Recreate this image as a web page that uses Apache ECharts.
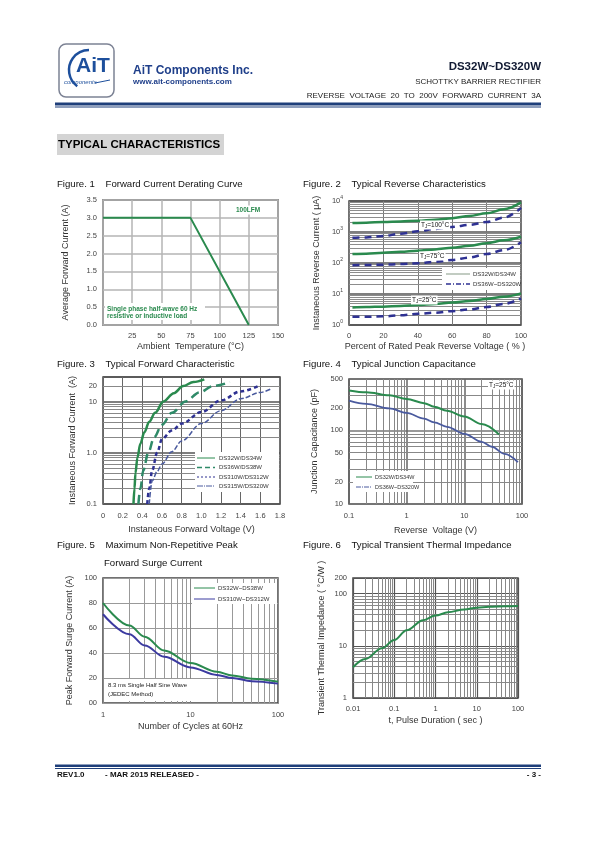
<!DOCTYPE html>
<html><head><meta charset="utf-8">
<script src="https://cdn.jsdelivr.net/npm/echarts@6/dist/echarts.min.js"></script>
<style>html,body{margin:0;padding:0;background:#fff}#c{width:595px;height:842px}</style>
</head><body><div id="c"></div>
<script>
// ---------------- DATA ----------------
// Fig 1 Forward Current Derating Curve
const f1Temp = [0, 75, 125];
const f1Curr = [3.0, 3.0, 0.0];
// Fig 2 Typical Reverse Characteristics (percent of rated voltage -> uA)
const f2Pct = [2, 10, 20, 30, 40, 50, 60, 70, 80, 90, 100];
const f2G100 = [1950, 2000, 2100, 2200, 2300, 2500, 2800, 3300, 4000, 5400, 9000];
const f2B100 = [650, 670, 740, 880, 1050, 1250, 1450, 1700, 2100, 2900, 6000];
const f2G75 = [195, 200, 215, 230, 250, 275, 310, 360, 435, 540, 700];
const f2B75 = [85, 86, 88, 92, 98, 110, 125, 150, 195, 260, 470];
const f2G25 = [3.7, 3.8, 3.9, 4.1, 4.4, 4.8, 5.3, 6.0, 6.9, 8.2, 10.5];
const f2B25 = [1.85, 1.85, 1.9, 2.05, 2.3, 2.5, 2.8, 3.2, 3.8, 4.8, 7.2];
// Fig 3 Typical Forward Characteristic (V, A)
const f3V_a = [0.31, 0.32, 0.33, 0.35, 0.38, 0.42, 0.47, 0.53, 0.615, 0.72, 0.815, 0.92, 1.03];
const f3I_a = [0.1, 0.2, 0.4, 0.8, 1.5, 2.5, 4, 6, 10, 14.5, 20, 24, 27];
const f3V_b = [0.36, 0.38, 0.41, 0.46, 0.52, 0.6, 0.7, 0.84, 0.98, 1.12, 1.29];
const f3I_b = [0.1, 0.2, 0.45, 1, 2, 3.5, 6, 10, 15, 20, 24];
const f3V_c = [0.45, 0.47, 0.5, 0.55, 0.6, 0.7, 0.8, 1.0, 1.2, 1.4, 1.58];
const f3I_c = [0.1, 0.2, 0.45, 1, 1.85, 2.7, 3.7, 6.2, 10.5, 15.7, 20];
const f3V_d = [0.47, 0.5, 0.55, 0.6, 0.7, 0.8, 1.0, 1.2, 1.4, 1.6, 1.72];
const f3I_d = [0.1, 0.28, 0.43, 0.6, 1.05, 1.7, 3.7, 6.6, 11.3, 15, 18];
// Fig 4 Typical Junction Capacitance (V, pF)
const f4V_g = [0.1, 0.2, 0.5, 1, 2, 3, 5, 10, 20, 40];
const f4C_g = [350, 330, 300, 268, 235, 210, 185, 155, 122, 88];
const f4V_b = [0.1, 0.2, 0.5, 1, 2, 3, 5, 10, 20, 30, 50, 85];
const f4C_b = [255, 230, 200, 173, 145, 129, 112, 90, 70, 60, 48, 37];
// Fig 5 Max Non-Repetitive Peak Forward Surge Current
const f5Cyc = [1, 2, 3, 5, 10, 20, 30, 50, 100];
const f5G = [80, 62, 53, 42, 32, 25, 22, 19.5, 17];
const f5B = [71, 55, 46, 37, 28.5, 22.5, 20, 17.5, 15.5];
// Fig 6 Transient Thermal Impedance
const f6T = [0.01, 0.02, 0.05, 0.1, 0.2, 0.5, 1, 2, 5, 10, 20, 50, 100];
const f6Z = [3.9, 5.6, 9, 13, 20, 31, 38, 44, 50, 54, 56, 57.5, 58];
// Tick labels
const f1XLabels = ['', '25', '50', '75', '100', '125', '150'];
const f5YLabels = ['00', '20', '40', '60', '80', '100'];
const f3ExtraY = [20];
const f4ExtraY = [200, 50, 20];

// ---------------- HELPERS ----------------
const FF = 'Liberation Sans, Arial, sans-serif';
const GREEN = '#2a8a4e', NAVY = '#2e3192', BLUE2 = '#4a5a9e', TEAL = '#2f8a68';
const TICK = 7.5;
const zip = (a, b) => a.map((v, i) => [v, b[i]]);
function minorLog(lo, hi) {
  const out = [];
  for (let d = lo; d < hi * 0.999; d = +(d * 10).toPrecision(3)) {
    for (let k = 2; k <= 9; k++) { const v = +(k * d).toPrecision(3); if (v < hi) out.push(v); }
  }
  return out;
}
// minor grid lines drawn as a 'lines' series in data space, under the curves
function gridSeries(gi, xr, yr, xVals, yVals, color, width) {
  const data = [
    ...xVals.map(v => ({ coords: [[v, yr[0]], [v, yr[1]]] })),
    ...yVals.map(v => ({ coords: [[xr[0], v], [xr[1], v]] }))
  ];
  return { type: 'lines', coordinateSystem: 'cartesian2d', xAxisIndex: gi, yAxisIndex: gi, z: 1, silent: true,
    lineStyle: { color: color, width: width, opacity: 1, curveness: 0 }, data: data };
}
const lbl = (extra) => Object.assign({ fontSize: TICK, color: '#444', fontFamily: FF }, extra || {});
const nameSt = { fontSize: 9, color: '#333', fontFamily: FF };
function xAx(gi, o) {
  return Object.assign({ gridIndex: gi, axisLine: { show: false }, axisTick: { show: false }, nameLocation: 'middle', nameTextStyle: nameSt }, o);
}
function line(gi, data, color, width, dash) {
  return { type: 'line', xAxisIndex: gi, yAxisIndex: gi, data: data, showSymbol: false, smooth: 0.35, smoothMonotone: 'x',
    lineStyle: { color: color, width: width, type: dash || 'solid' }, zlevel: 1, z: 10, silent: true };
}
const gridBase = { show: true, borderColor: '#444', borderWidth: 1.5, backgroundColor: '#fff', containLabel: false, outerBoundsMode: 'none' };

// ---------------- GRAPHICS (text, header, legends) ----------------
const G = [];
function T(x, y, text, font, fill, align, extra) {
  G.push({ type: 'text', zlevel: 1, x: x, y: y, z: 50, style: Object.assign({ text: text, font: font, fill: fill || '#111', textAlign: align || 'left', textVerticalAlign: 'middle' }, extra || {}) });
}
function R(x, y, w, h, fill, z) { G.push({ type: 'rect', zlevel: 1, z: z || 40, shape: { x: x, y: y, width: w, height: h }, style: { fill: fill } }); }
function L(x1, y1, x2, y2, color, w, dash) { G.push({ type: 'line', zlevel: 1, z: 45, shape: { x1: x1, y1: y1, x2: x2, y2: y2 }, style: { stroke: color, lineWidth: w, lineDash: dash || null } }); }

// header
G.push({ type: 'rect', zlevel: 1, z: 40, shape: { x: 59, y: 44, width: 55, height: 53, r: 7 }, style: { fill: '#fff', stroke: '#7c8294', lineWidth: 1.5 } });
G.push({ type: 'arc', zlevel: 1, z: 45, shape: { cx: 89, cy: 70, r: 20, startAngle: Math.PI * 0.7, endAngle: Math.PI * 1.5 }, style: { stroke: '#1d4f9c', lineWidth: 2.5, fill: null } });
T(93, 66, 'AiT', 'bold 21px ' + FF, '#1d4f9c', 'center');
T(64, 82, 'components', 'italic 6px ' + FF, '#1d4f9c');
L(95, 83, 110, 80, '#1d4f9c', 1);
T(133, 71, 'AiT Components Inc.', 'bold 12px ' + FF, '#1f3f8a');
T(133, 82, 'www.ait-components.com', 'bold 8px ' + FF, '#1f3f8a');
T(541, 67, 'DS32W~DS320W', 'bold 11.5px ' + FF, '#111a33', 'right');
T(541, 82, 'SCHOTTKY BARRIER RECTIFIER', '8px ' + FF, '#222', 'right');
T(541, 96, 'REVERSE  VOLTAGE  20  TO  200V  FORWARD  CURRENT  3A', '8px ' + FF, '#222', 'right');
R(55, 102.5, 486, 3, '#1f3f7a'); R(55, 106.5, 486, 1, '#1f3f7a');
// section header
R(57, 134, 167, 21, '#d4d4d4');
T(58, 145, 'TYPICAL CHARACTERISTICS', 'bold 11.5px ' + FF, '#000');
// figure titles
const tf = '9.6px ' + FF;
T(57, 184, 'Figure. 1    Forward Current Derating Curve', tf);
T(303, 184, 'Figure. 2    Typical Reverse Characteristics', tf);
T(57, 364, 'Figure. 3    Typical Forward Characteristic', tf);
T(303, 364, 'Figure. 4    Typical Junction Capacitance', tf);
T(57, 545, 'Figure. 5    Maximum Non-Repetitive Peak', tf);
T(104, 563, 'Forward Surge Current', tf);
T(303, 545, 'Figure. 6    Typical Transient Thermal Impedance', tf);
// footer
R(55, 764.5, 486, 2.5, '#1f3f7a'); R(55, 768, 486, 1, '#1f3f7a');
T(57, 775, 'REV1.0', 'bold 8px ' + FF, '#111');
T(105, 775, '- MAR 2015 RELEASED -', 'bold 8px ' + FF, '#111');
T(541, 775, '- 3 -', 'bold 8px ' + FF, '#111', 'right');
// fig1 annotations
T(235, 210, '100LFM', 'bold 6.5px ' + FF, GREEN, 'left', { backgroundColor: '#fff', padding: [1, 1] });
R(105, 303, 100, 17, '#fff');
T(107, 309, 'Single phase half-wave 60 Hz', 'bold 6.5px ' + FF, GREEN);
T(107, 316, 'resistive or inductive load', 'bold 6.5px ' + FF, GREEN);
// fig2 annotations
const tj = (x, y, t) => G.push({ type: 'text', zlevel: 1, x: x, y: y, z: 50, style: { text: '{a|T}{s|J}{a|' + t + '}', textVerticalAlign: 'middle', backgroundColor: '#fff', padding: [0, 1], rich: { a: { fontSize: 6.5, fontFamily: FF, fill: '#111', color: '#111' }, s: { fontSize: 4.5, fontFamily: FF, color: '#111', fill: '#111', padding: [4, 0, 0, 0] } } } });
tj(420, 225, '=100°C'); tj(419, 256, '=75°C'); tj(411, 300, '=25°C');
R(442, 268, 78, 22, '#fff');
L(446, 274, 470, 274, '#9aaa9a', 1.2); T(473, 274, 'DS32W/DS34W', '6px ' + FF, '#333');
L(446, 284, 470, 284, NAVY, 1.5, [5, 2, 1, 2]); T(473, 284, 'DS36W~DS320W', '6px ' + FF, '#333');
// fig3 legend
R(195, 452, 84, 40, '#fff');
L(197, 458, 215, 458, GREEN, 1); T(219, 458, 'DS32W/DS34W', '6px ' + FF, '#333');
L(197, 467.5, 215, 467.5, TEAL, 1.5, [5, 3]); T(219, 467.5, 'DS36W/DS38W', '6px ' + FF, '#333');
L(197, 477, 215, 477, NAVY, 1, [2, 2]); T(219, 477, 'DS310W/DS312W', '6px ' + FF, '#333');
L(197, 486, 215, 486, BLUE2, 1, [6, 1, 1, 1]); T(219, 486, 'DS315W/DS320W', '6px ' + FF, '#333');
// fig4 annotations
tj(488, 385, '=25°C');
R(353, 471, 60, 21, '#fff');
L(356, 477, 372, 477, GREEN, 1); T(375, 477, 'DS32W/DS34W', '5.5px ' + FF, '#333');
L(356, 487, 372, 487, BLUE2, 1, [5, 1, 1, 1]); T(375, 487, 'DS36W~DS320W', '5.5px ' + FF, '#333');
// fig5 legend + note
R(192, 583, 85, 21, '#fff');
L(194, 588, 215, 588, GREEN, 1); T(218, 588, 'DS32W~DS38W', '6px ' + FF, '#333');
L(194, 599, 215, 599, '#3b3aa0', 1); T(218, 599, 'DS310W~DS312W', '6px ' + FF, '#333');
R(104, 679, 98, 22, '#fff');
T(108, 685, '8.3 ms Single Half Sine Wave', '6px ' + FF, '#222');
T(108, 694, '(JEDEC Method)', '6px ' + FF, '#222');

// ---------------- OPTION ----------------
const logFmt = v => String(+v.toPrecision(3));
const grids = [
  { left: 103, top: 200, width: 175, height: 125 },
  { left: 349, top: 201, width: 172, height: 124 },
  { left: 103, top: 377, width: 177, height: 127 },
  { left: 349, top: 379, width: 173, height: 125 },
  { left: 103, top: 578, width: 175, height: 125 },
  { left: 353, top: 578, width: 165, height: 120 }
];
const option = {
  animation: false,
  backgroundColor: '#fff',
  grid: grids.map(g => Object.assign({}, g, gridBase)),
  xAxis: [
    xAx(0, { type: 'value', min: 0, max: 150, interval: 25, name: 'Ambient  Temperature (°C)', nameGap: 17,
      axisLabel: lbl({ margin: 7, formatter: v => f1XLabels[Math.round(v / 25)] }), splitLine: { lineStyle: { color: '#b5b5b5', width: 1.5 } } }),
    xAx(1, { type: 'value', min: 0, max: 100, interval: 20, name: 'Percent of Rated Peak Reverse Voltage ( % )', nameGap: 17,
      axisLabel: lbl({ margin: 7 }), splitLine: { lineStyle: { color: '#777', width: 1 } } }),
    xAx(2, { type: 'value', min: 0, max: 1.8, interval: 0.2, name: 'Instaneous Forward Voltage (V)', nameGap: 21,
      axisLabel: lbl({ margin: 8, formatter: v => v === 0 ? '0' : v.toFixed(1) }), splitLine: { lineStyle: { color: '#666', width: 1 } } }),
    xAx(3, { type: 'log', logBase: 10, min: 0.1, max: 100, name: 'Reverse  Voltage (V)', nameGap: 22,
      axisLabel: lbl({ margin: 8, formatter: logFmt }), splitLine: { lineStyle: { color: '#666', width: 1.5 } } }),
    xAx(4, { type: 'log', logBase: 10, min: 1, max: 100, name: 'Number of Cycles at 60Hz', nameGap: 19,
      axisLabel: lbl({ margin: 8, formatter: logFmt }), splitLine: { lineStyle: { color: '#888', width: 1 } } }),
    xAx(5, { type: 'log', logBase: 10, min: 0.01, max: 100, name: 't, Pulse Duration ( sec )', nameGap: 18,
      axisLabel: lbl({ margin: 7, formatter: logFmt }), splitLine: { lineStyle: { color: '#555', width: 1.2 } } })
  ],
  yAxis: [
    xAx(0, { type: 'value', min: 0, max: 3.5, interval: 0.5, name: 'Average Forward Current (A)', nameGap: 33,
      axisLabel: lbl({ margin: 6, formatter: v => v.toFixed(1) }), splitLine: { lineStyle: { color: '#b5b5b5', width: 1.5 } } }),
    xAx(1, { type: 'log', logBase: 10, min: 1, max: 10000, name: 'Instaneous Reverse Current ( μA)', nameGap: 28,
      axisLabel: { margin: 6, formatter: v => '{b|10}{s|' + Math.round(Math.log10(v)) + '}',
        rich: { b: { fontSize: TICK, color: '#444', fontFamily: FF }, s: { fontSize: 5, color: '#444', fontFamily: FF, padding: [0, 0, 6, 0] } } },
      splitLine: { lineStyle: { color: '#555', width: 1.5 } } }),
    xAx(2, { type: 'log', logBase: 10, min: 0.1, max: 30, name: 'Instaneous Forward Current  (A)', nameGap: 26,
      axisLabel: lbl({ margin: 6, formatter: v => { const r = +v.toPrecision(3); return r === 0.1 ? '0.1' : r === 1 ? '1.0' : r === 10 ? '10' : ''; } }),
      splitLine: { lineStyle: { color: '#555', width: 1.5 } } }),
    xAx(3, { type: 'log', logBase: 10, min: 10, max: 500, name: 'Junction Capacitance (pF)', nameGap: 30,
      axisLabel: lbl({ margin: 6, formatter: logFmt }), splitLine: { lineStyle: { color: '#777', width: 1.5 } } }),
    xAx(4, { type: 'value', min: 0, max: 100, interval: 20, name: 'Peak Forward Surge Current (A)', nameGap: 29,
      axisLabel: lbl({ margin: 6, formatter: v => f5YLabels[Math.round(v / 20)] }), splitLine: { lineStyle: { color: '#999', width: 1 } } }),
    xAx(5, { type: 'log', logBase: 10, min: 1, max: 200, name: 'Transient Thermal Impedance ( °C/W )', nameGap: 27,
      axisLabel: lbl({ margin: 6, formatter: logFmt }), splitLine: { lineStyle: { color: '#555', width: 1.2 } } })
  ],
  series: [
    // minor grid decorations
    gridSeries(1, [0, 100], [1, 10000], [], minorLog(1, 10000), '#8c8c8c', 1),
    gridSeries(2, [0, 1.8], [0.1, 30], [], minorLog(0.1, 30), '#888', 1),
    gridSeries(3, [0.1, 100], [10, 500], minorLog(0.1, 100), minorLog(10, 500), '#888', 1),
    gridSeries(4, [1, 100], [0, 100], minorLog(1, 100), [], '#999', 1),
    gridSeries(5, [0.01, 100], [1, 200], minorLog(0.01, 100), minorLog(1, 200), '#888', 1),
    // data
    Object.assign(line(0, zip(f1Temp, f1Curr), GREEN, 2), { smooth: false }),
    line(1, zip(f2Pct, f2G100), GREEN, 2.5),
    line(1, zip(f2Pct, f2B100), NAVY, 2.5, [7, 5]),
    line(1, zip(f2Pct, f2G75), GREEN, 2.5),
    line(1, zip(f2Pct, f2B75), NAVY, 2.5, [7, 5]),
    line(1, zip(f2Pct, f2G25), GREEN, 2.5),
    line(1, zip(f2Pct, f2B25), NAVY, 2.5, [7, 5]),
    line(2, zip(f3V_a, f3I_a), GREEN, 2.5),
    line(2, zip(f3V_b, f3I_b), TEAL, 2.5, [9, 5]),
    line(2, zip(f3V_c, f3I_c), NAVY, 2.5, [4, 3]),
    line(2, zip(f3V_d, f3I_d), BLUE2, 1.5, [5, 2]),
    line(3, zip(f4V_g, f4C_g), GREEN, 2),
    line(3, zip(f4V_b, f4C_b), BLUE2, 1.8),
    line(4, zip(f5Cyc, f5G), GREEN, 2),
    line(4, zip(f5Cyc, f5B), '#3b3aa0', 2),
    line(5, zip(f6T, f6Z), GREEN, 2)
  ],
  graphic: G
};
const chart = echarts.init(document.getElementById('c'), null, { renderer: 'canvas', width: 595, height: 842 });
chart.setOption(option);
// extra (non-decade) y tick labels placed through the axis scale
function extraLabels(gi, vals) {
  vals.forEach(v => {
    const py = chart.convertToPixel({ yAxisIndex: gi }, v);
    T(grids[gi].left - 6, py, String(v), TICK + 'px ' + FF, '#444', 'right');
  });
}
extraLabels(2, f3ExtraY);
extraLabels(3, f4ExtraY);
option.graphic = G;
chart.setOption(option, true);
</script></body></html>
